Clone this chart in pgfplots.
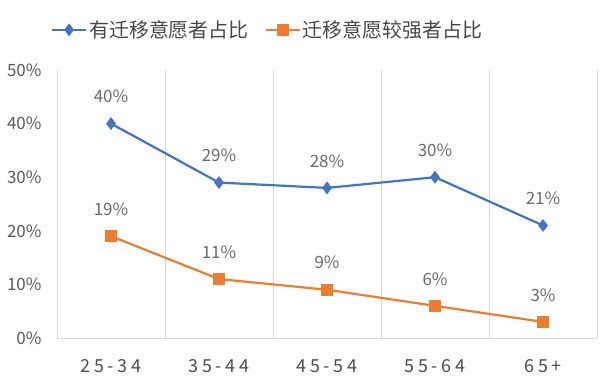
\documentclass[border=0pt]{standalone}
\usepackage{fontspec}
\setmainfont{Noto Sans CJK SC}
\newfontfamily\xlab[LetterSpace=20]{Noto Sans CJK SC}
\usepackage{pgfplots}
\pgfplotsset{compat=1.18}
\definecolor{sblue}{HTML}{4472C4}
\definecolor{sorange}{HTML}{ED7D31}
\definecolor{lblgray}{HTML}{595959}
\definecolor{gridgray}{HTML}{D9D9D9}
\begin{document}
\begin{tikzpicture}[x=1bp,y=1bp]
\useasboundingbox (0,0) rectangle (600,389);
\begin{axis}[
  at={(57bp,51bp)}, anchor=south west,
  scale only axis, width=540bp, height=268bp,
  xmin=0, xmax=5, ymin=0, ymax=50,
  xtick={0.5,1.5,2.5,3.5,4.5},
  xticklabels={25-34,35-44,45-54,55-64,65+},
  minor xtick={0,1,2,3,4,5},
  xminorgrids, minor grid style={gridgray, line width=0.8bp},
  ytick={0,10,20,30,40,50},
  yticklabel={\pgfmathprintnumber{\tick}\%},
  major tick length=0pt, minor tick length=0pt,
  axis lines*=left,
  y axis line style={draw=none},
  x axis line style={draw=gridgray, line width=1bp},
  /pgf/number format/assume math mode=true,
  yticklabel style={font=\fontsize{17}{20}\selectfont, text=lblgray, xshift=-12bp},
  xticklabel style={font=\fontsize{18}{21}\selectfont\xlab, text=lblgray!85!black, yshift=-18bp},
  clip=false,
  legend columns=2,
  legend style={at={(0.39,1.15)}, anchor=center, draw=none, fill=none,
    font=\fontsize{20}{24}\selectfont, text=lblgray!80!black,
    /tikz/every even column/.append style={column sep=14bp}},
  legend image code/.code={
    \draw[#1] (0bp,0bp) -- (34bp,0bp);
    \draw[#1, only marks] plot coordinates {(17bp,0bp)};
  },
  nodes near coords={\pgfmathprintnumber{\pgfplotspointmeta}\%},
  every node near coord/.append style={font=\fontsize{17}{20}\selectfont, text=lblgray!90, anchor=center, yshift=27bp},
]
\addplot[sblue, line width=2.2bp, mark=diamond*, mark size=6bp, mark options={fill=sblue, line width=0.5bp}]
  coordinates {(0.5,40) (1.5,29) (2.5,28) (3.5,30) (4.5,21)};
\addlegendentry{有迁移意愿者占比}
\addplot[sorange, line width=2.2bp, mark=square*, mark size=5.5bp, mark options={fill=sorange, line width=0.5bp}]
  coordinates {(0.5,19) (1.5,11) (2.5,9) (3.5,6) (4.5,3)};
\addlegendentry{迁移意愿较强者占比}
\end{axis}
\end{tikzpicture}
\end{document}
